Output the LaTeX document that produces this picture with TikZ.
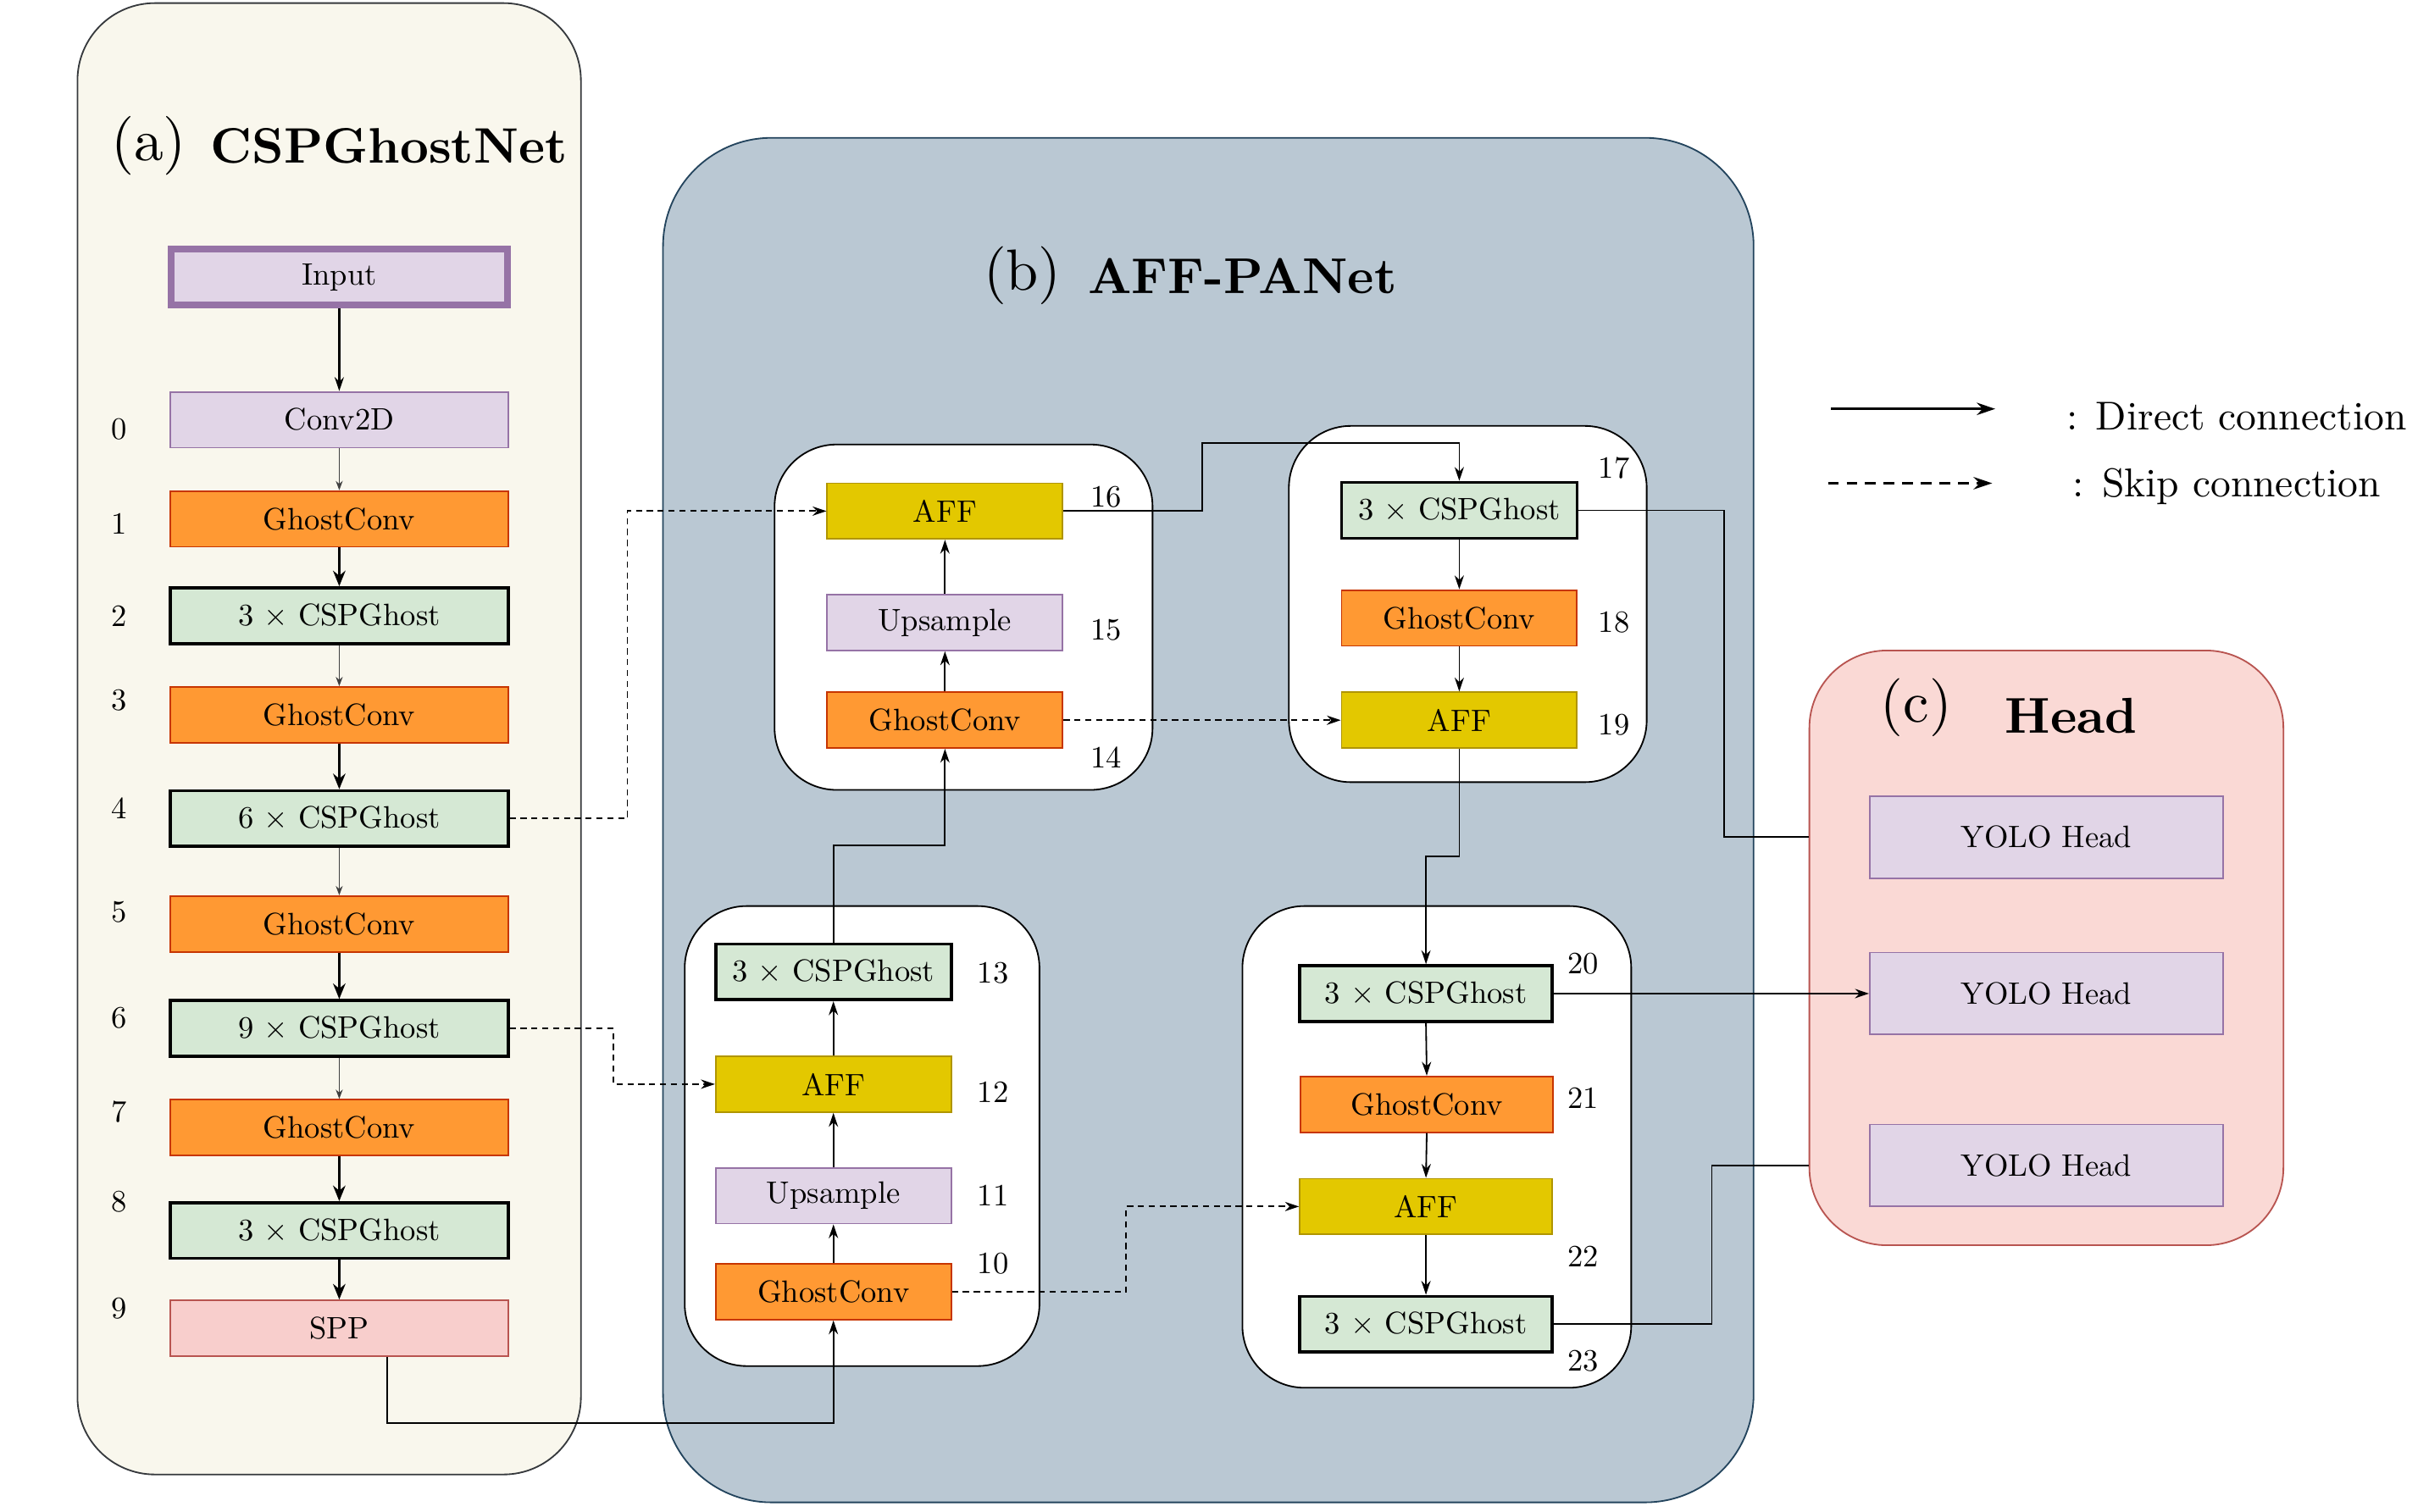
\documentclass[tikz,border=0pt]{standalone}
\usepackage{graphicx}
\usetikzlibrary{arrows.meta}
\definecolor{aF}{HTML}{F9F7ED}\definecolor{aD}{HTML}{36393D}
\definecolor{bF}{HTML}{BAC8D3}\definecolor{bD}{HTML}{23445D}
\definecolor{cF}{HTML}{FAD9D5}\definecolor{cD}{HTML}{B85450}
\definecolor{purF}{HTML}{E1D5E7}\definecolor{purD}{HTML}{9673A6}
\definecolor{orF}{HTML}{FF9933}\definecolor{orD}{HTML}{C73500}
\definecolor{yeF}{HTML}{E3C800}\definecolor{yeD}{HTML}{B09500}
\definecolor{grF}{HTML}{D5E8D4}
\definecolor{pkF}{HTML}{F8CECC}\definecolor{pkD}{HTML}{B85450}
\newcommand\bt[1]{\scalebox{2}{\fontsize{10}{12}\selectfont #1}}
\newcommand\ttl[2]{\scalebox{#1}{\fontsize{10}{12}\selectfont #2}}
\tikzset{
  blk/.style={rectangle, inner sep=0pt, minimum height=36pt, text=black},
  lw/.style={blk, minimum width=218pt},
  mw/.style={blk, minimum width=152pt},
  rw/.style={blk, minimum width=163pt},
  purp/.style={fill=purF, draw=purD, line width=1pt},
  orng/.style={fill=orF, draw=orD, line width=1pt},
  grn/.style={fill=grF, draw=black, line width=2pt},
  yel/.style={fill=yeF, draw=yeD, line width=1pt},
  pnk/.style={fill=pkF, draw=pkD, line width=1pt},
  num/.style={inner sep=0pt},
  arr/.style={-{Stealth[length=9pt,width=6pt]}, line width=1pt},
  thinarr/.style={-{Stealth[length=6pt,width=4.5pt]}, line width=0.6pt, draw=black!75},
  thkarr/.style={-{Stealth[length=10pt,width=8pt]}, line width=1.6pt},
  skip/.style={-{Stealth[length=9pt,width=6pt]}, line width=1pt, dash pattern=on 4pt off 3pt},
  plain/.style={line width=1pt},
  wbox/.style={draw=black, fill=white, line width=1pt, rounded corners=40pt},
}
\begin{document}
\begin{tikzpicture}[x=1pt,y=-1pt]
\useasboundingbox (0,0) rectangle (1568,976);
\fill[white] (0,0) rectangle (1568,976);
% panels
\draw[fill=aF, draw=aD, line width=1pt, rounded corners=50pt] (50,2) rectangle (375,952);
\draw[fill=bF, draw=bD, line width=1pt, rounded corners=70pt] (428,89) rectangle (1132,970);
\node[draw=cD, fill=cF, line width=1pt, rounded corners=50pt, minimum width=306pt, minimum height=384pt, inner sep=0pt] (pc) at (1321,612) {};
% inner white boxes
\draw[wbox] (500,287) rectangle (744,510);
\draw[wbox] (832,275) rectangle (1063,505);
\draw[wbox] (442,585) rectangle (671,882);
\draw[wbox] (802,585) rectangle (1053,896);
% titles
\node (ta) at (96,94) {\ttl{3.8}{(a)}};
\node (tan) at (251,94) {\ttl{3.22}{\bfseries CSPGhostNet}};
\node (tb) at (660,178) {\ttl{3.75}{(b)}};
\node (tbn) at (802,178) {\ttl{3.25}{\bfseries AFF-PANet}};
\node (tc) at (1237,457) {\ttl{3.75}{(c)}};
\node (tcn) at (1337,462) {\ttl{3.25}{\bfseries Head}};
% left column
\node[lw, purp, line width=4.5pt, minimum width=217pt] (inp) at (219,179) {\bt{Input}};
\node[lw, purp] (n0) at (219,271) {\bt{Conv2D}};
\node[lw, orng] (n1) at (219,335) {\bt{GhostConv}};
\node[lw, grn] (n2) at (219,397.5) {\bt{3 $\times$ CSPGhost}};
\node[lw, orng] (n3) at (219,461.5) {\bt{GhostConv}};
\node[lw, grn] (n4) at (219,528.5) {\bt{6 $\times$ CSPGhost}};
\node[lw, orng] (n5) at (219,596.5) {\bt{GhostConv}};
\node[lw, grn] (n6) at (219,664) {\bt{9 $\times$ CSPGhost}};
\node[lw, orng] (n7) at (219,728) {\bt{GhostConv}};
\node[lw, grn] (n8) at (219,794.5) {\bt{3 $\times$ CSPGhost}};
\node[lw, pnk] (n9) at (219,857.5) {\bt{SPP}};
\node[num] (l0) at (77,277) {\bt{0}};
\node[num] (l1) at (77,338) {\bt{1}};
\node[num] (l2) at (77,398) {\bt{2}};
\node[num] (l3) at (77,452) {\bt{3}};
\node[num] (l4) at (77,522) {\bt{4}};
\node[num] (l5) at (77,589) {\bt{5}};
\node[num] (l6) at (77,657) {\bt{6}};
\node[num] (l7) at (77,718) {\bt{7}};
\node[num] (l8) at (77,776) {\bt{8}};
\node[num] (l9) at (77,845) {\bt{9}};
% middle
\node[mw, yel] (n16) at (610,330) {\bt{AFF}};
\node[mw, purp] (n15) at (610,402) {\bt{Upsample}};
\node[mw, orng] (n14) at (610,465) {\bt{GhostConv}};
\node[mw, grn] (n17) at (942,329.5) {\bt{3 $\times$ CSPGhost}};
\node[mw, orng] (n18) at (942,399) {\bt{GhostConv}};
\node[mw, yel] (n19) at (942,465) {\bt{AFF}};
\node[mw, grn] (n13) at (538,627.5) {\bt{3 $\times$ CSPGhost}};
\node[mw, yel] (n12) at (538,700) {\bt{AFF}};
\node[mw, purp] (n11) at (538,772) {\bt{Upsample}};
\node[mw, orng] (n10) at (538,834) {\bt{GhostConv}};
\node[rw, grn] (n20) at (920.5,641.5) {\bt{3 $\times$ CSPGhost}};
\node[rw, orng] (n21) at (921,713) {\bt{GhostConv}};
\node[rw, yel] (n22) at (920.5,779) {\bt{AFF}};
\node[rw, grn] (n23) at (920.5,855) {\bt{3 $\times$ CSPGhost}};
\node[num] (l16) at (714,321) {\bt{16}};
\node[num] (l15) at (714,407) {\bt{15}};
\node[num] (l14) at (714,489) {\bt{14}};
\node[num] (l17) at (1042,302) {\bt{17}};
\node[num] (l18) at (1042,402) {\bt{18}};
\node[num] (l19) at (1042,468) {\bt{19}};
\node[num] (l13) at (641,628) {\bt{13}};
\node[num] (l12) at (641,705) {\bt{12}};
\node[num] (l11) at (641,772) {\bt{11}};
\node[num] (l10) at (641,816) {\bt{10}};
\node[num] (l20) at (1022,622) {\bt{20}};
\node[num] (l21) at (1022,709) {\bt{21}};
\node[num] (l22) at (1022,811) {\bt{22}};
\node[num] (l23) at (1022,879) {\bt{23}};
% heads
\node[purp, inner sep=0pt, minimum width=228pt, minimum height=53pt] (y1) at (1321,540.5) {\bt{YOLO Head}};
\node[purp, inner sep=0pt, minimum width=228pt, minimum height=53pt] (y2) at (1321,641.5) {\bt{YOLO Head}};
\node[purp, inner sep=0pt, minimum width=228pt, minimum height=53pt] (y3) at (1321,752.5) {\bt{YOLO Head}};
% legend
\coordinate (la1) at (1182,264); \coordinate (la2) at (1288,264);
\coordinate (lb1) at (1180,312); \coordinate (lb2) at (1286,312);
\draw[-{Stealth[length=12pt,width=8pt]}, line width=1.5pt] (la1) -- (la2);
\draw[-{Stealth[length=12pt,width=8pt]}, line width=1.5pt, dash pattern=on 7pt off 5pt] (lb1) -- (lb2);
\node[anchor=west, inner sep=0pt] (lt1) at (1334,269) {\ttl{2.6}{: Direct connection}};
\node[anchor=west, inner sep=0pt] (lt2) at (1338,314) {\ttl{2.6}{: Skip connection}};
% left column arrows
\draw[arr, line width=1.3pt] (inp.south) -- (n0.north);
\draw[thinarr] (n0.south) -- (n1.north);
\draw[thkarr] (n1.south) -- (n2.north);
\draw[thinarr] (n2.south) -- (n3.north);
\draw[thkarr] (n3.south) -- (n4.north);
\draw[thinarr] (n4.south) -- (n5.north);
\draw[thkarr] (n5.south) -- (n6.north);
\draw[thinarr] (n6.south) -- (n7.north);
\draw[thkarr] (n7.south) -- (n8.north);
\draw[thkarr] (n8.south) -- (n9.north);
% middle arrows
\coordinate (c1) at (250,919);
\draw[arr] ([xshift=31pt]n9.south) -- (c1) -| (n10.south);
\draw[arr] (n10.north) -- (n11.south);
\draw[arr] (n11.north) -- (n12.south);
\draw[arr] (n12.north) -- (n13.south);
\coordinate (c2) at (538,546);
\draw[arr] (n13.north) -- (c2) -| (n14.south);
\draw[arr] (n14.north) -- (n15.south);
\draw[arr] (n15.north) -- (n16.south);
\coordinate (c3) at (776,286);
\draw[arr] (n16.east) -| (c3) -| (n17.north);
\draw[arr] (n17.south) -- (n18.north);
\draw[arr] (n18.south) -- (n19.north);
\coordinate (c4) at (942,553);
\draw[arr] (n19.south) -- (c4) -| (n20.north);
\draw[arr] (n20.south) -- (n21.north);
\draw[arr] (n21.south) -- (n22.north);
\draw[arr] (n22.south) -- (n23.north);
% to head
\coordinate (c5) at (1113,329.5);
\draw[plain] (n17.east) -- (c5) |- (y1.west -| pc.west);
\draw[arr] (n20.east) -- (y2.west);
\coordinate (c6) at (1105,855);
\draw[plain] (n23.east) -- (c6) |- (y3.west -| pc.west);
% skip
\coordinate (d1) at (405,528.5);
\draw[skip] (n4.east) -- (d1) |- (n16.west);
\coordinate (d2) at (396,664);
\draw[skip] (n6.east) -- (d2) |- (n12.west);
\draw[skip] (n14.east) -- (n19.west);
\coordinate (d3) at (727,834);
\draw[skip] (n10.east) -- (d3) |- (n22.west);
\end{tikzpicture}
\end{document}
